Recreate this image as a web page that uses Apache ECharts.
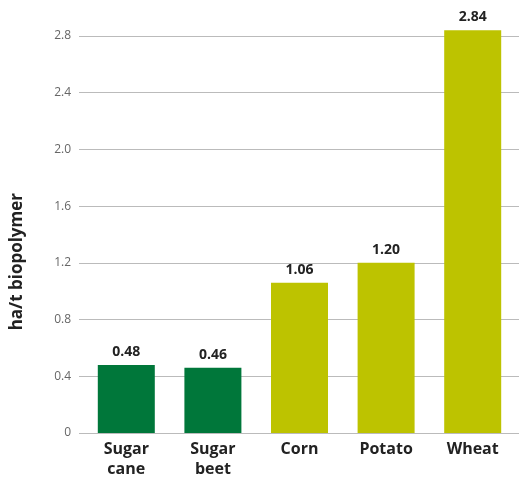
<!DOCTYPE html>
<html>
<head>
<meta charset="utf-8">
<script src="https://cdn.jsdelivr.net/npm/echarts@6/dist/echarts.min.js"></script>
<style>
  html, body { margin: 0; padding: 0; background: #fff; }
  #chart { width: 519px; height: 479px; }
</style>
</head>
<body>
<div id="chart"></div>
<script>
// Land use per tonne of biopolymer
const categories = ['Sugar\ncane', 'Sugar\nbeet', 'Corn', 'Potato', 'Wheat'];
const values = [0.48, 0.46, 1.06, 1.20, 2.84];
const barColors = ['#00773a', '#00773a', '#bdc300', '#bdc300', '#bdc300'];

var chart = echarts.init(document.getElementById('chart'));

var option = {
  animation: false,
  // grid 0 carries the gridlines and y labels, grid 1 the bars
  grid: [
    { left: 79, right: 0, top: 36, bottom: 46 },
    { left: 83, right: 3, top: 36, bottom: 46 }
  ],
  xAxis: [
    { type: 'category', gridIndex: 0, data: categories, show: false },
    {
      type: 'category',
      gridIndex: 1,
      data: categories,
      axisTick: { show: false },
      axisLine: { show: false },
      axisLabel: {
        color: '#222',
        fontFamily: 'Open Sans',
        fontWeight: 'bold',
        fontSize: 16,
        lineHeight: 20,
        margin: 6
      }
    }
  ],
  yAxis: [
    {
      type: 'value',
      gridIndex: 0,
      min: 0,
      max: 2.8,
      interval: 0.4,
      axisLine: { show: false },
      axisTick: { show: false },
      splitLine: { lineStyle: { color: '#bbbbbb', width: 1 } },
      axisLabel: {
        color: '#666',
        fontFamily: 'Open Sans',
        fontSize: 12,
        margin: 8,
        formatter: function (v) { return v === 0 ? '0' : v.toFixed(1); }
      }
    },
    {
      type: 'value',
      gridIndex: 1,
      min: 0,
      max: 2.8,
      interval: 0.4,
      show: false,
      splitLine: { show: false }
    }
  ],
  graphic: [{
    type: 'text',
    left: 9,
    top: 193,
    rotation: Math.PI / 2,
    style: {
      text: 'ha/t biopolymer',
      fill: '#222',
      font: 'bold 17px "Open Sans"'
    }
  }],
  series: [{
    type: 'bar',
    xAxisIndex: 1,
    yAxisIndex: 1,
    clip: false,
    barWidth: 57,
    data: values.map(function (v, i) {
      return { value: v, itemStyle: { color: barColors[i] } };
    }),
    label: {
      show: true,
      position: 'top',
      distance: 6,
      color: '#222',
      fontFamily: 'Open Sans',
      fontWeight: 'bold',
      fontSize: 14,
      formatter: function (p) { return p.value.toFixed(2); }
    }
  }]
};

option && chart.setOption(option);
</script>
</body>
</html>
